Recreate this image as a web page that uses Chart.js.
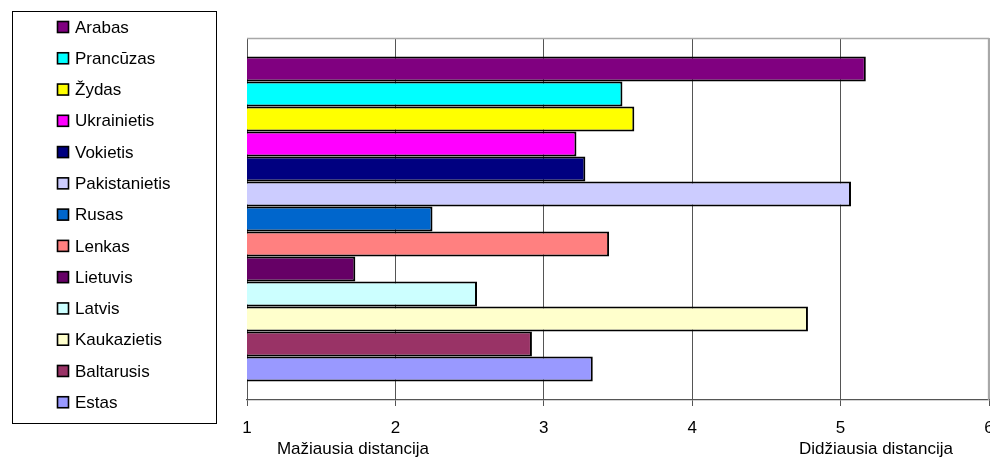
<!DOCTYPE html>
<html>
<head>
<meta charset="utf-8">
<script src="https://cdn.jsdelivr.net/npm/chart.js@4/dist/chart.umd.min.js"></script>
<style>
  html, body { margin: 0; padding: 0; background: #fff; }
  #wrap { width: 990px; height: 462px; position: relative; }
</style>
</head>
<body>
<div id="wrap"><canvas id="c" width="990" height="462"></canvas></div>
<script>
const seriesNames = ['Arabas', 'Prancūzas', 'Žydas', 'Ukrainietis', 'Vokietis', 'Pakistanietis', 'Rusas', 'Lenkas', 'Lietuvis', 'Latvis', 'Kaukazietis', 'Baltarusis', 'Estas'];
const seriesValues = [5.17, 3.53, 3.61, 3.22, 3.28, 5.07, 2.25, 3.44, 1.73, 2.55, 4.78, 2.92, 3.33];
const seriesColors = ['#800080', '#00FFFF', '#FFFF00', '#FF00FF', '#000080', '#CCCCFF', '#0066CC', '#FF8080', '#660066', '#CCFFFF', '#FFFFCC', '#993366', '#9999FF'];
const xTicks = [1, 2, 3, 4, 5, 6];
const axisTitleLeft = 'Mažiausia distancija';
const axisTitleRight = 'Didžiausia distancija';

const FONT = '"Liberation Sans", Arial, sans-serif';

const datasets = seriesNames.map((n, i) => ({
  label: n,
  data: [seriesValues[i]],
  backgroundColor: seriesColors[i],
  borderColor: '#000',
  borderWidth: 2,
  borderSkipped: false,
  categoryPercentage: 0.898,
  barPercentage: 1.0
}));

const sideLegend = {
  id: 'sideLegend',
  afterDraw(chart) {
    const ctx = chart.ctx;
    ctx.save();
    ctx.strokeStyle = '#000';
    ctx.lineWidth = 1;
    ctx.strokeRect(12.5, 11.5, 204, 412);
    ctx.font = '17px ' + FONT;
    ctx.textBaseline = 'middle';
    ctx.textAlign = 'left';
    chart.data.datasets.forEach((ds, i) => {
      const cy = 27 + i * 31.27;
      ctx.fillStyle = ds.backgroundColor;
      ctx.fillRect(57.5, cy - 5.5, 11, 11);
      ctx.strokeStyle = '#000';
      ctx.lineWidth = 1.6;
      ctx.strokeRect(57.5, cy - 5.5, 11, 11);
      ctx.fillStyle = '#000';
      ctx.fillText(ds.label, 75, cy + 1);
    });
    ctx.restore();
  }
};

const plotFrame = {
  id: 'plotFrame',
  beforeDatasetsDraw(chart) {
    const a = chart.chartArea, ctx = chart.ctx;
    ctx.save();
    ctx.strokeStyle = '#a8a8a8';
    ctx.lineWidth = 1.3;
    ctx.beginPath();
    ctx.moveTo(a.left, a.top + 0.5);
    ctx.lineTo(a.right - 0.5, a.top + 0.5);
    ctx.lineTo(a.right - 0.5, a.bottom);
    ctx.stroke();
    ctx.restore();
  },
  afterDraw(chart) {
    const ctx = chart.ctx;
    const x = chart.scales.x;
    ctx.save();
    ctx.font = '17px ' + FONT;
    ctx.fillStyle = '#000';
    ctx.textAlign = 'center';
    ctx.textBaseline = 'middle';
    ctx.fillText(axisTitleLeft, x.left + 106, 449);
    ctx.fillText(axisTitleRight, x.left + 629, 449);
    ctx.restore();
  }
};

new Chart(document.getElementById('c'), {
  type: 'bar',
  data: { labels: [''], datasets },
  options: {
    indexAxis: 'y',
    responsive: false,
    animation: false,
    devicePixelRatio: 1,
    layout: { padding: { left: 247, top: 38, right: 1, bottom: 0 } },
    plugins: { legend: { display: false }, tooltip: { enabled: false } },
    scales: {
      y: {
        display: false,
        grid: { display: false }
      },
      x: {
        type: 'linear',
        min: 1,
        max: 6,
        afterBuildTicks(s) { s.ticks = xTicks.map(v => ({ value: v })); },
        afterFit(s) { s.height = 62; s.paddingLeft = 0; s.paddingRight = 0; },
        border: { display: true, color: '#555', width: 1.3 },
        grid: {
          color: ctx => (ctx.tick && ctx.tick.value === 6) ? '#a8a8a8' : '#555',
          lineWidth: 1,
          drawTicks: true,
          tickLength: 6,
          tickColor: '#555'
        },
        ticks: {
          color: '#000',
          font: { family: FONT, size: 17 },
          padding: 12,
          maxRotation: 0,
          autoSkip: false,
          callback: v => String(v)
        }
      }
    }
  },
  plugins: [sideLegend, plotFrame]
});
</script>
</body>
</html>
